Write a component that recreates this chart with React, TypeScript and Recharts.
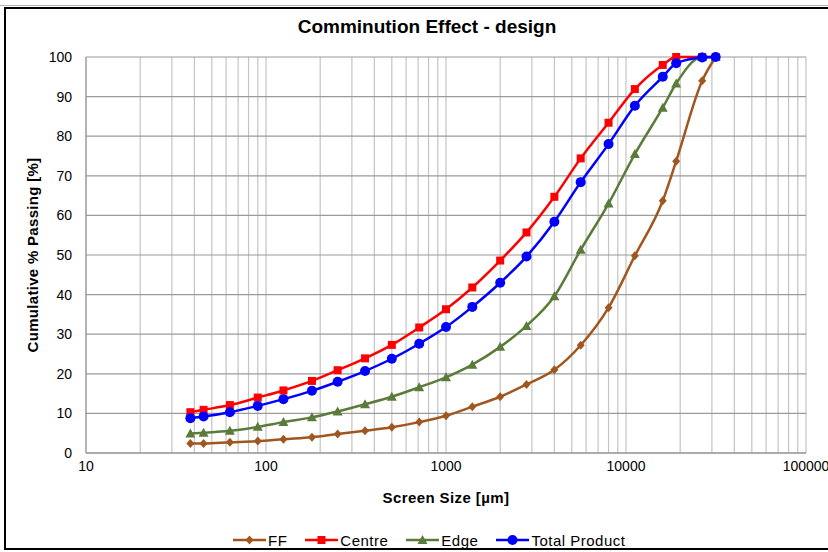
import { LineChart, Line, XAxis, YAxis, CartesianGrid, Legend } from 'recharts';

const sizes = [38, 45, 63, 90, 125, 180, 250, 355, 500, 710, 1000, 1400, 2000, 2800, 4000, 5600, 8000, 11200, 16000, 19000, 26500, 31500];
const ff = [2.4, 2.4, 2.7, 3.0, 3.5, 4.0, 4.8, 5.6, 6.5, 7.8, 9.4, 11.7, 14.2, 17.3, 21.0, 27.2, 36.7, 49.8, 63.7, 73.7, 94.0, 100];
const centre = [10.3, 10.9, 12.1, 14.0, 15.8, 18.2, 20.9, 23.9, 27.3, 31.7, 36.3, 41.8, 48.6, 55.7, 64.7, 74.4, 83.4, 91.9, 98.0, 100, 100, 100];
const edge = [4.9, 5.1, 5.6, 6.6, 7.8, 9.0, 10.5, 12.3, 14.2, 16.6, 19.1, 22.3, 26.8, 32.1, 39.6, 51.3, 63.0, 75.5, 87.2, 93.3, 100, 100];
const total = [8.8, 9.2, 10.3, 11.9, 13.6, 15.7, 18.0, 20.7, 23.8, 27.6, 31.8, 36.9, 43.0, 49.6, 58.4, 68.4, 78.0, 87.7, 95.0, 98.4, 99.9, 100];

const decades = [10, 100, 1000, 10000, 100000];
const yTicks = [0, 10, 20, 30, 40, 50, 60, 70, 80, 90, 100];

// minor gridlines at 1..9 x each decade
const xTicks: number[] = [];
decades.slice(0, -1).forEach(d => {
  for (let m = 1; m <= 9; m++) xTicks.push(d * m);
});
xTicks.push(100000);

const data = sizes.map((s, i) => ({ size: s, ff: ff[i], centre: centre[i], edge: edge[i], total: total[i] }));

const FONT = '"Liberation Sans", Arial, sans-serif';

const series = [
  { key: 'ff', name: 'FF', color: '#A0561E', shape: 'diamond' },
  { key: 'centre', name: 'Centre', color: '#FF0000', shape: 'square' },
  { key: 'edge', name: 'Edge', color: '#5B7B3A', shape: 'triangle' },
  { key: 'total', name: 'Total Product', color: '#0000FF', shape: 'circle' },
];

function marker(shape: string, color: string, cx: number, cy: number, key?: any) {
  if (shape === 'diamond') {
    return <path key={key} d={`M${cx},${cy - 4.5}L${cx + 4},${cy}L${cx},${cy + 4.5}L${cx - 4},${cy}Z`} fill={color} />;
  }
  if (shape === 'square') {
    return <rect key={key} x={cx - 4} y={cy - 4} width={8} height={8} fill={color} />;
  }
  if (shape === 'triangle') {
    return <path key={key} d={`M${cx},${cy - 5}L${cx + 5},${cy + 4}L${cx - 5},${cy + 4}Z`} fill={color} />;
  }
  return <circle key={key} cx={cx} cy={cy} r={5} fill={color} />;
}

const makeDot = (shape: string, color: string) => (props: any) => {
  const { cx, cy, index } = props;
  if (cx == null || cy == null) return <g key={index} />;
  return marker(shape, color, cx, cy, index);
};

const renderLegend = () => (
  <div style={{ display: 'flex', paddingLeft: 233, fontFamily: FONT, fontSize: 15, letterSpacing: 0.5, color: '#000', height: 20, alignItems: 'center' }}>
    {series.map(s => (
      <div key={s.key} style={{ display: 'flex', alignItems: 'center', marginRight: 18 }}>
        <svg width={33} height={12}>
          <line x1={0} y1={6} x2={33} y2={6} stroke={s.color} strokeWidth={2.5} />
          {marker(s.shape, s.color, 16.5, 6)}
        </svg>
        <span style={{ marginLeft: 2 }}>{s.name}</span>
      </div>
    ))}
  </div>
);

const axisTitle = { fontFamily: FONT, fontWeight: 'bold', fontSize: 15, fill: '#000' };

export default function App() {
  return (
    <div style={{ position: 'absolute', left: 0, top: 0, width: 828, height: 552, background: '#fff', overflow: 'hidden' }}>
      <div style={{ position: 'absolute', left: 0, top: 5, width: 828, height: 1, background: '#b0b0b0' }} />
      <div style={{ position: 'absolute', left: 4, top: 7, width: 840, height: 539, borderLeft: '2px solid #000', borderTop: '2px solid #000', borderBottom: '2px solid #000' }} />
      <div style={{ position: 'absolute', left: 0, width: 854, top: 16, textAlign: 'center', fontFamily: FONT, fontWeight: 'bold', fontSize: 19, color: '#000' }}>
        Comminution Effect - design
      </div>
      <div style={{ position: 'absolute', left: 0, top: 0 }}>
        <LineChart width={828} height={552} data={data} margin={{ top: 57, right: 22, bottom: 2, left: 26 }}>
          <CartesianGrid horizontal={false} stroke="#c4c4c4" strokeWidth={1.2} />
          <CartesianGrid vertical={false} stroke="#9a9a9a" strokeWidth={1.2} />
          <XAxis
            dataKey="size"
            type="number"
            scale="log"
            domain={[10, 100000]}
            allowDataOverflow
            ticks={xTicks}
            interval={0}
            tickLine={false}
            tickSize={6}
            tickMargin={2}
            height={77}
            stroke="#8c8c8c"
            tick={{ fill: '#000', fontSize: 14, fontFamily: FONT }}
            tickFormatter={(v: number) => (decades.includes(v) ? String(v) : '')}
            label={{ value: 'Screen Size [µm]', position: 'insideBottom', offset: 27, style: { ...axisTitle, letterSpacing: 0.4 } }}
          />
          <YAxis
            type="number"
            domain={[0, 100]}
            ticks={yTicks}
            interval={0}
            width={60}
            tickLine={false}
            tickSize={6}
            tickMargin={8}
            stroke="#8c8c8c"
            tick={{ fill: '#000', fontSize: 14, fontFamily: FONT }}
            label={{ value: 'Cumulative % Passing [%]', angle: -90, position: 'insideLeft', offset: 7, style: { ...axisTitle, textAnchor: 'middle', letterSpacing: 0.3 } }}
          />
          <Legend verticalAlign="bottom" content={renderLegend} wrapperStyle={{ left: 0, width: 828 }} />
          {series.map(s => (
            <Line
              key={s.key}
              dataKey={s.key}
              name={s.name}
              type="monotone"
              stroke={s.color}
              strokeWidth={2.5}
              dot={makeDot(s.shape, s.color)}
              activeDot={false}
              isAnimationActive={false}
            />
          ))}
        </LineChart>
      </div>
    </div>
  );
}
